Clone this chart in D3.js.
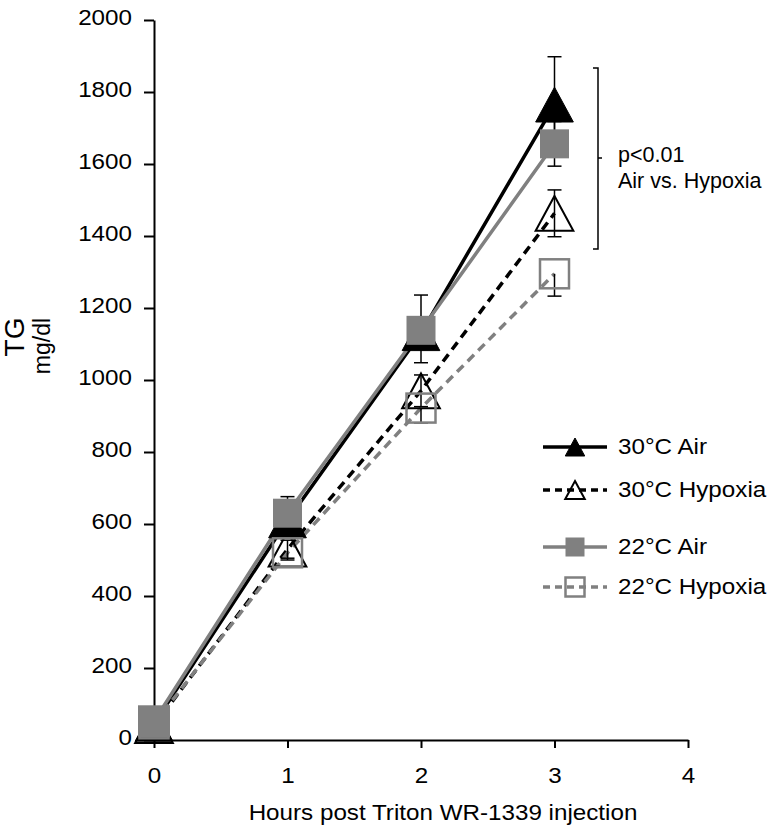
<!DOCTYPE html>
<html lang="en">
<head>
<meta charset="UTF-8">
<title>TG after Triton WR-1339</title>
<script src="https://d3js.org/d3.v7.min.js"></script>
<style>
    body { margin: 0; background: #fff; }
    svg { display: block; font-family: "Liberation Sans", Arial, sans-serif; }
</style>
</head>
<body>
<svg width="776" height="831"></svg>
<script>
    // hours after injection
    const hours = [0, 1, 2, 3];
    const xTicks = [0, 1, 2, 3, 4];
    const yTicks = [0, 200, 400, 600, 800, 1000, 1200, 1400, 1600, 1800, 2000];

    // TG, mg/dl
    const air30 = [45, 610, 1130, 1765];
    const hyp30 = [40, 530, 970, 1463];
    const air22 = [52, 630, 1138, 1656];
    const hyp22 = [45, 520, 922, 1295];

    // error bars, up and down (mg/dl)
    const air30Up = [0, 35, 45, 133];
    const air30Dn = [0, 35, 45, 133];
    const hyp30Up = [0, 25, 44, 65];
    const hyp30Dn = [0, 25, 44, 65];
    const air22Up = [0, 46, 98, 62];
    const air22Dn = [0, 46, 90, 62];
    const hyp22Up = [0, 0, 0, 0];
    const hyp22Dn = [0, 20, 41, 62];

    const names = ["30°C Air", "30°C Hypoxia", "22°C Air", "22°C Hypoxia"];

    const GRAY = "#808080";
    const FS = 22;
    const series = [
        { name: names[0], values: air30, up: air30Up, dn: air30Dn, color: "#000", dash: false, shape: "tri", filled: true },
        { name: names[1], values: hyp30, up: hyp30Up, dn: hyp30Dn, color: "#000", dash: true, shape: "tri", filled: false },
        { name: names[2], values: air22, up: air22Up, dn: air22Dn, color: GRAY, dash: false, shape: "sq", filled: true },
        { name: names[3], values: hyp22, up: hyp22Up, dn: hyp22Dn, color: GRAY, dash: true, shape: "sq", filled: false }
    ];

    const svg = d3.select("svg");

    const x = d3.scaleLinear().domain([0, 4]).range([154, 688]);
    const y = d3.scaleLinear().domain([0, 2000]).range([740, 20]);

    const xAxis = svg.append("g")
        .attr("transform", "translate(0,740)")
        .call(d3.axisBottom(x).tickValues(xTicks).tickFormat(d3.format("d"))
            .tickSize(8).tickPadding(19).tickSizeOuter(0));

    const yAxis = svg.append("g")
        .attr("transform", "translate(154,0)")
        .call(d3.axisLeft(y).tickValues(yTicks).tickFormat(d3.format("d"))
            .tickSize(10).tickPadding(12).tickSizeOuter(0));

    [xAxis, yAxis].forEach(g => {
        g.attr("font-size", FS).attr("font-family", null);
        g.selectAll("path, line").attr("stroke", "#000").attr("stroke-width", 2);
        g.selectAll("text").attr("fill", "#000");
    });
    yAxis.selectAll("text").attr("dy", "0.2em");

    // axis titles
    svg.append("text")
        .attr("class", "keep")
        .attr("transform", "translate(14,337) rotate(-90)")
        .attr("text-anchor", "middle")
        .attr("dy", "0.36em")
        .attr("font-size", 28)
        .text("TG");
    svg.append("text")
        .attr("class", "keep")
        .attr("transform", "translate(44,346) rotate(-90)")
        .attr("text-anchor", "middle")
        .attr("dy", "0.25em")
        .attr("font-size", 23)
        .text("mg/dl");
    svg.append("text")
        .attr("x", 443)
        .attr("y", 820)
        .attr("text-anchor", "middle")
        .attr("font-size", FS)
        .text("Hours post Triton WR-1339 injection");

    // lines
    const line = d3.line()
        .x((d, i) => x(hours[i]))
        .y(d => y(d));

    series.forEach(s => {
        svg.append("path")
            .attr("d", line(s.values))
            .attr("fill", "none")
            .attr("stroke", s.color)
            .attr("stroke-width", 3.5)
            .attr("stroke-dasharray", s.dash ? "9,6" : null);
    });

    // error bars
    series.forEach(s => {
        s.values.forEach((v, i) => {
            const hi = v + s.up[i];
            const lo = v - s.dn[i];
            if (hi === lo) return;
            const cx = x(hours[i]);
            svg.append("line")
                .attr("x1", cx).attr("x2", cx)
                .attr("y1", y(lo)).attr("y2", y(hi))
                .attr("stroke", "#000").attr("stroke-width", 1.5);
            [s.up[i] ? hi : null, s.dn[i] ? lo : null].forEach(e => {
                if (e === null) return;
                svg.append("line")
                    .attr("x1", cx - 7).attr("x2", cx + 7)
                    .attr("y1", y(e)).attr("y2", y(e))
                    .attr("stroke", "#000").attr("stroke-width", 1.5);
            });
        });
    });

    function triPath(cx, cy, w, h) {
        return `M${cx},${cy - h / 2}L${cx + w / 2},${cy + h / 2}L${cx - w / 2},${cy + h / 2}Z`;
    }

    function marker(s, cx, cy, size) {
        if (s.shape === "tri") {
            svg.append("path")
                .attr("d", triPath(cx, cy, size * 1.3, size * 1.2))
                .attr("fill", s.filled ? "#000" : "none")
                .attr("stroke", "#000")
                .attr("stroke-width", s.filled ? 1 : 2);
        } else {
            svg.append("rect")
                .attr("x", cx - size / 2).attr("y", cy - size / 2)
                .attr("width", size).attr("height", size)
                .attr("fill", s.filled ? GRAY : "none")
                .attr("stroke", GRAY)
                .attr("stroke-width", s.filled ? 0 : 2.5);
        }
    }

    // markers, filled grey square on top
    [0, 1, 3, 2].forEach(k => {
        const s = series[k];
        s.values.forEach((v, i) => marker(s, x(hours[i]), y(v), i === 0 && k === 2 ? 32 : 29));
    });

    // legend
    const rowY = [447, 490, 547, 587];
    series.forEach((s, k) => {
        const ly = rowY[k];
        svg.append("line")
            .attr("x1", 543).attr("x2", 607)
            .attr("y1", ly).attr("y2", ly)
            .attr("stroke", s.color)
            .attr("stroke-width", 3.5)
            .attr("stroke-dasharray", s.dash ? "7,5" : null);
        marker(s, 575, ly, s.shape === "tri" ? 15 : 19);
        svg.append("text")
            .attr("x", 618)
            .attr("y", ly + 7)
            .attr("font-size", FS)
            .text(s.name);
    });

    // significance bracket
    svg.append("path")
        .attr("d", "M593,68 H598 V249 H593 M598,158 H602")
        .attr("fill", "none")
        .attr("stroke", "#000")
        .attr("stroke-width", 1.5);
    svg.append("text").attr("class", "keep").attr("x", 618).attr("y", 162).attr("font-size", 21.5).text("p<0.01");
    svg.append("text").attr("class", "keep").attr("x", 618).attr("y", 188).attr("font-size", 21.5).text("Air vs. Hypoxia");

    // lettering in the source is a little wider than Arial
    svg.selectAll("text").filter(function () { return !this.classList.contains("keep"); })
        .each(function () {
            const len = this.getComputedTextLength();
            d3.select(this).attr("textLength", len * 1.1).attr("lengthAdjust", "spacingAndGlyphs");
        });
</script>
</body>
</html>
